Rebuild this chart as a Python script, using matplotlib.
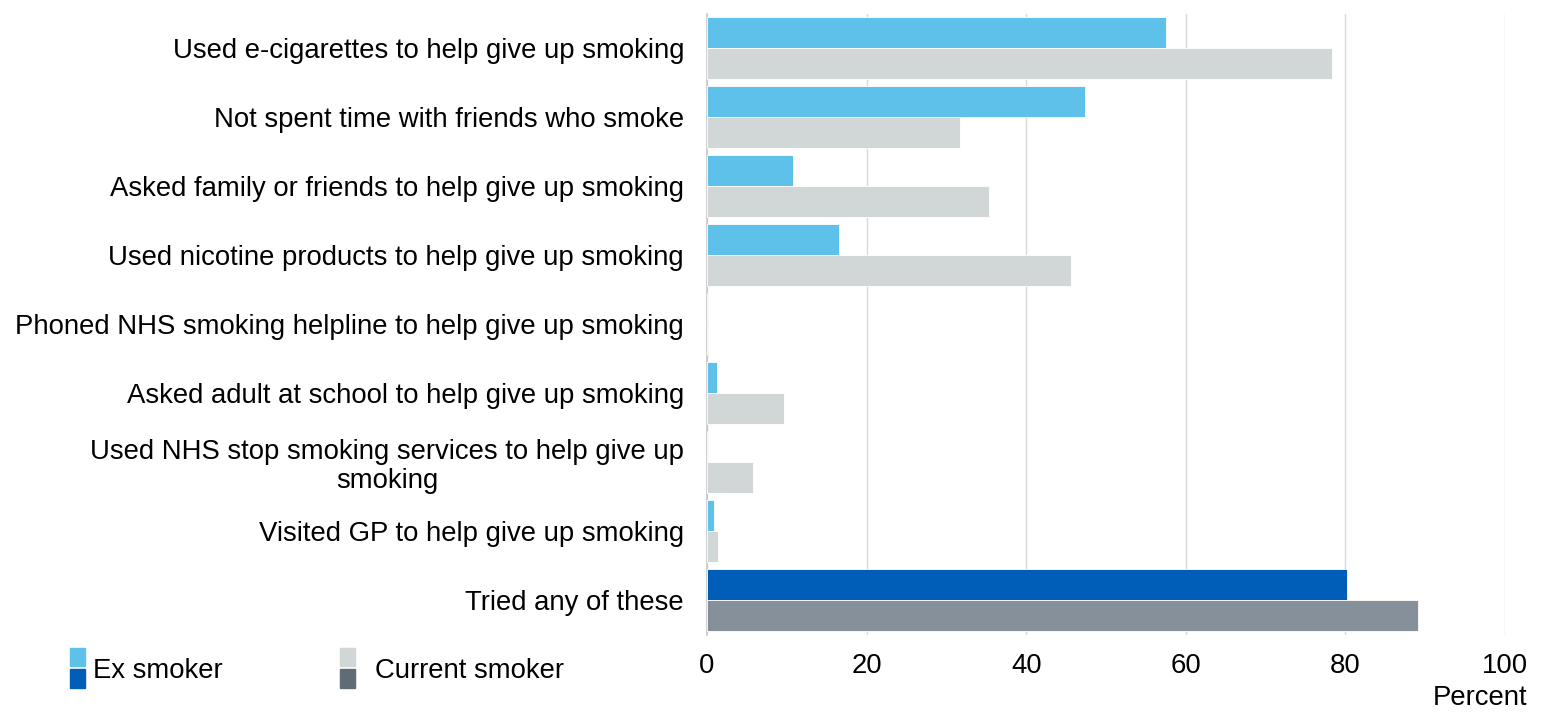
import matplotlib
matplotlib.use("Agg")
import matplotlib.pyplot as plt
from matplotlib.patches import Rectangle
import numpy as np

categories = [
    "Used e-cigarettes to help give up smoking",
    "Not spent time with friends who smoke",
    "Asked family or friends to help give up smoking",
    "Used nicotine products to help give up smoking",
    "Phoned NHS smoking helpline to help give up smoking",
    "Asked adult at school to help give up smoking",
    "Used NHS stop smoking services to help give up\nsmoking",
    "Visited GP to help give up smoking",
    "Tried any of these",
]
ex_smoker = [57.5, 47.4, 10.8, 16.5, 0.0, 1.25, 0.0, 0.9, 80.2]
current_smoker = [78.3, 31.7, 35.3, 45.6, 0.0, 9.6, 5.8, 1.4, 89.1]
xticks = [0, 20, 40, 60, 80, 100]
series_labels = ["Ex smoker", "Current smoker"]

ex_light, ex_dark = "#5EC1EA", "#005EB8"
cur_light, cur_dark = "#D1D7D7", "#86909A"
cur_dark_legend = "#5F6B77"

plt.rcParams["font.family"] = ["Liberation Sans", "DejaVu Sans"]
FS = 19.8

fig = plt.figure(figsize=(15.59, 7.15), dpi=100)
ax = fig.add_axes([707/1559, 1-634.5/715, (1505-707)/1559, 621/715])

n = len(categories)
y = np.arange(n)
h = 0.45
ex_colors = [ex_light]*(n-1) + [ex_dark]
cur_colors = [cur_light]*(n-1) + [cur_dark]
ax.barh(y - h/2, ex_smoker, height=h, color=ex_colors, edgecolor="white", linewidth=0.6, zorder=3)
ax.barh(y + h/2, current_smoker, height=h, color=cur_colors, edgecolor="white", linewidth=0.6, zorder=3)

ax.set_ylim(n-0.5, -0.5)
ax.set_xlim(0, 100)
ax.set_xticks(xticks)
ax.set_xticklabels([str(t) for t in xticks], fontsize=FS)
ax.set_yticks(y)
ax.set_yticklabels(categories, fontsize=FS, multialignment="center", linespacing=1.15)
ax.tick_params(axis="both", length=0)
ax.tick_params(axis="y", pad=16.5)
ax.tick_params(axis="x", pad=13)
ax.grid(axis="x", color="#D9D9D9", linewidth=1, zorder=0)
for s in ["top", "right", "bottom"]:
    ax.spines[s].set_visible(False)
ax.spines["left"].set_color("#C8C8C8")
ax.spines["left"].set_linewidth(1.2)

fig.text(1527/1559, 1-698/715, "Percent", fontsize=FS, ha="right", va="center")

# legend
def add_leg(x0, c1, c2, label, tx):
    fig.add_artist(Rectangle((x0/1559, 1-666/715), 15/1559, 18/715, transform=fig.transFigure, color=c1))
    fig.add_artist(Rectangle((x0/1559, 1-688/715), 15/1559, 19/715, transform=fig.transFigure, color=c2))
    fig.text(tx/1559, 1-671/715, label, fontsize=FS, ha="left", va="center")

add_leg(70, ex_light, ex_dark, series_labels[0], 93)
add_leg(340, cur_light, cur_dark_legend, series_labels[1], 375)

fig.savefig("out.png", dpi=100, facecolor="white")
